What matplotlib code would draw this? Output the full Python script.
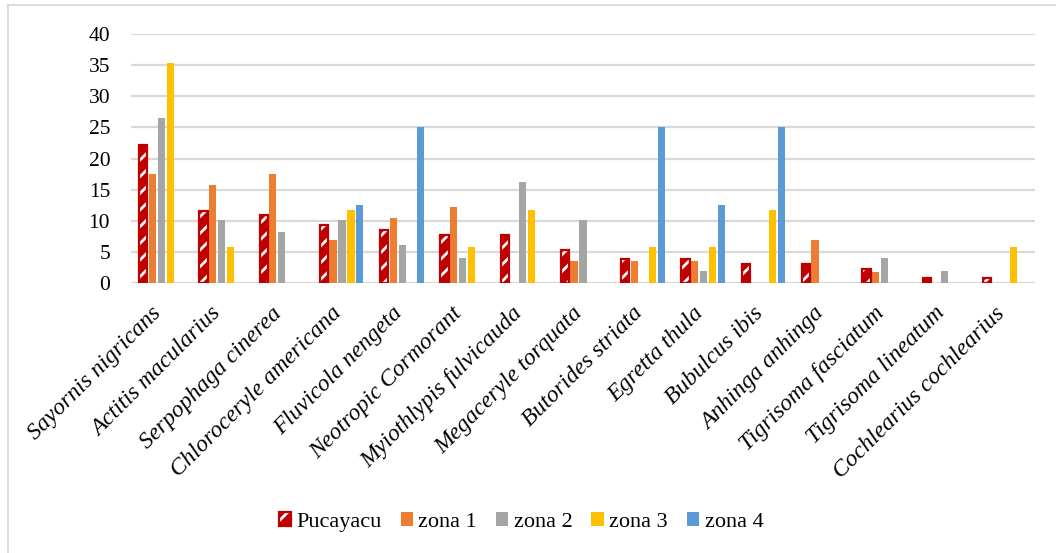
import matplotlib
matplotlib.use("Agg")
import matplotlib.pyplot as plt
import matplotlib.transforms as mtransforms
from matplotlib.patches import Patch
from matplotlib.lines import Line2D
import numpy as np

species = [
    "Sayornis nigricans", "Actitis macularius", "Serpophaga cinerea",
    "Chloroceryle americana", "Fluvicola nengeta", "Neotropic Cormorant",
    "Myiothlypis fulvicauda", "Megaceryle torquata", "Butorides striata",
    "Egretta thula", "Bubulcus ibis", "Anhinga anhinga",
    "Tigrisoma fasciatum", "Tigrisoma lineatum", "Cochlearius cochlearius",
]

pucayacu = [22.2, 11.6, 10.9, 9.3, 8.5, 7.8, 7.8, 5.4, 3.9, 3.9, 3.1, 3.1, 2.3, 0.8, 0.8]
zona1 = [17.5, 15.8, 17.5, 7.0, 10.5, 12.3, 0, 3.5, 3.5, 3.5, 0, 7.0, 1.75, 0, 0]
zona2 = [26.5, 10.2, 8.16, 10.2, 6.12, 4.08, 16.3, 10.2, 0, 2.04, 0, 0, 4.08, 2.04, 0]
zona3 = [35.3, 5.88, 0, 11.8, 0, 5.88, 11.8, 0, 5.88, 5.88, 11.8, 0, 0, 0, 5.88]
zona4 = [0, 0, 0, 12.5, 25.0, 0, 0, 0, 25.0, 12.5, 25.0, 0, 0, 0, 0]

series_names = ["Pucayacu", "zona 1", "zona 2", "zona 3", "zona 4"]
y_ticks = [0, 5, 10, 15, 20, 25, 30, 35, 40]

RED = "#C00000"
colors = [RED, "#ED7D31", "#A5A5A5", "#FFC000", "#5B9BD5"]
GRID = "#D9D9D9"

plt.rcParams["font.family"] = ["Liberation Serif", "DejaVu Serif"]
plt.rcParams["hatch.linewidth"] = 2.0

fig = plt.figure(figsize=(10.56, 5.53), dpi=100)
ax = fig.add_axes([131 / 1056, 1 - 283.3 / 553, (1035 - 131) / 1056, (283.3 - 34) / 553])

x = np.arange(len(species))
w = 0.149
all_series = [pucayacu, zona1, zona2, zona3, zona4]

for j, vals in enumerate(all_series):
    pos = x + (j - 2) * w
    if j == 0:
        ax.bar(pos, vals, w * 0.92, color=RED, edgecolor="white", hatch="//",
               linewidth=0, zorder=3)
        ax.bar(pos, vals, w * 0.92, fill=False, edgecolor=RED, linewidth=1.6, zorder=4)
    else:
        ax.bar(pos, vals, w * 0.8, color=colors[j], linewidth=0, zorder=3)

ax.set_xlim(-0.5, len(species) - 0.5)
ax.set_ylim(0, 40)
ax.set_yticks(y_ticks)
ax.set_yticklabels([str(t) for t in y_ticks], fontsize=15.5)
ax.yaxis.grid(True, color=GRID, linewidth=1.6, zorder=0)
ax.set_axisbelow(True)
ax.tick_params(axis="y", length=0, pad=15)
ax.tick_params(axis="x", length=0, pad=14)
ax.set_xticks(x)
ax.set_xticklabels(species, rotation=45, ha="right", fontsize=17, fontstyle="italic")
shift = mtransforms.ScaledTranslation(4 / 100, 0, fig.dpi_scale_trans)
for lbl in ax.get_xticklabels():
    lbl.set_transform(lbl.get_transform() + shift)
for s in ax.spines.values():
    s.set_visible(False)

handles = [(Patch(facecolor=RED, edgecolor="white", hatch="//", linewidth=0),
            Patch(fill=False, edgecolor=RED, linewidth=1.6))]
handles += [Patch(facecolor=c, linewidth=0) for c in colors[1:]]
fig.legend(handles, series_names, loc="center", bbox_to_anchor=(521 / 1056, 1 - 522 / 553),
           ncol=5, frameon=False, fontsize=16, handlelength=0.55, handleheight=0.55,
           handletextpad=0.25, columnspacing=0.85)

# outer chart border
fig.add_artist(Line2D([8 / 1056, 1.0], [1 - 4.5 / 553, 1 - 4.5 / 553],
                      transform=fig.transFigure, color=GRID, linewidth=1.3))
fig.add_artist(Line2D([8 / 1056, 8 / 1056], [0.0, 1 - 4.5 / 553],
                      transform=fig.transFigure, color=GRID, linewidth=1.3))

fig.savefig("out.png", dpi=100)
